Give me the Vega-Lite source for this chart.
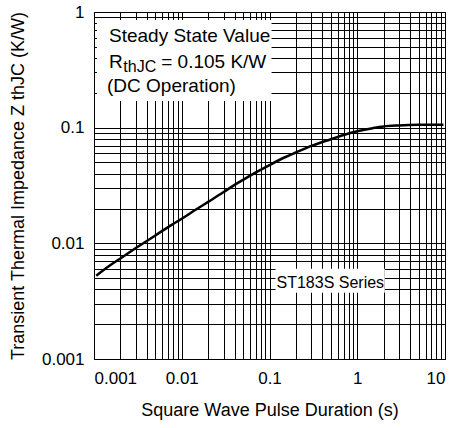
{
  "$schema": "https://vega.github.io/schema/vega-lite/v6.json",
  "width": 351,
  "height": 347,
  "autosize": {"type": "none"},
  "padding": {"left": 94, "top": 12, "right": 15, "bottom": 69},
  "background": "white",
  "config": {
    "view": {"stroke": "black", "strokeWidth": 1},
    "font": "Liberation Sans",
    "axis": {
      "labelFont": "Liberation Sans",
      "titleFont": "Liberation Sans",
      "labelColor": "black",
      "titleColor": "black",
      "titleFontWeight": "normal",
      "labelFontSize": 17,
      "titleFontSize": 18,
      "ticks": false,
      "domainColor": "black",
      "domainWidth": 1,
      "grid": true,
      "gridColor": "black",
      "gridWidth": 1,
      "gridOpacity": 1
    }
  },
  "encoding": {
    "x": {
      "field": "x",
      "type": "quantitative",
      "scale": {"type": "log", "domain": [0.001, 10], "nice": false},
      "axis": {
        "title": "Square Wave Pulse Duration (s)",
        "values": [0.001,0.002,0.003,0.004,0.005,0.006,0.007,0.008,0.009,0.01,0.02,0.03,0.04,0.05,0.06,0.07,0.08,0.09,0.1,0.2,0.3,0.4,0.5,0.6,0.7,0.8,0.9,1,2,3,4,5,6,7,8,9,10],
        "labelExpr": "abs(log(datum.value)/LN10 - round(log(datum.value)/LN10)) < 0.000001 ? format(datum.value, '~g') : ''",
        "labelPadding": 11,
        "labelOverlap": false,
        "titlePadding": 15
      }
    },
    "y": {
      "field": "y",
      "type": "quantitative",
      "scale": {"type": "log", "domain": [0.001, 1], "nice": false},
      "axis": {
        "title": "Transient Thermal Impedance Z thJC (K/W)",
        "values": [0.001,0.002,0.003,0.004,0.005,0.006,0.007,0.008,0.009,0.01,0.02,0.03,0.04,0.05,0.06,0.07,0.08,0.09,0.1,0.2,0.3,0.4,0.5,0.6,0.7,0.8,0.9,1],
        "labelExpr": "abs(log(datum.value)/LN10 - round(log(datum.value)/LN10)) < 0.000001 ? format(datum.value, '~g') : ''",
        "labelPadding": 10,
        "labelOverlap": false,
        "titlePadding": 14
      }
    }
  },
  "layer": [
    {
      "data": {"values": [
        {"x": 0.00106, "y": 0.00525},
        {"x": 0.0015, "y": 0.0064},
        {"x": 0.002, "y": 0.0074},
        {"x": 0.003, "y": 0.0091},
        {"x": 0.005, "y": 0.0117},
        {"x": 0.0075, "y": 0.0143},
        {"x": 0.01, "y": 0.0163},
        {"x": 0.015, "y": 0.0199},
        {"x": 0.02, "y": 0.0228},
        {"x": 0.03, "y": 0.0278},
        {"x": 0.04, "y": 0.032},
        {"x": 0.05, "y": 0.0354},
        {"x": 0.07, "y": 0.041},
        {"x": 0.1, "y": 0.0475},
        {"x": 0.15, "y": 0.0555},
        {"x": 0.2, "y": 0.061},
        {"x": 0.3, "y": 0.0695},
        {"x": 0.5, "y": 0.0795},
        {"x": 0.7, "y": 0.0865},
        {"x": 1, "y": 0.093},
        {"x": 1.5, "y": 0.099},
        {"x": 2, "y": 0.1025},
        {"x": 3, "y": 0.1045},
        {"x": 5, "y": 0.1058},
        {"x": 7, "y": 0.106},
        {"x": 9.6, "y": 0.1062}
      ]},
      "mark": {"type": "line", "color": "black", "strokeWidth": 2.5, "interpolate": "monotone"}
    },
    {
      "data": {"values": [
        {"x": 0.00108, "x2": 0.1055, "y": 0.853, "y2": 0.1703},
        {"x": 0.1172, "x2": 2.06, "y": 0.00604, "y2": 0.003745}
      ]},
      "mark": {"type": "rect", "color": "white", "opacity": 1},
      "encoding": {
        "x2": {"field": "x2"},
        "y2": {"field": "y2"}
      }
    },
    {
      "data": {"values": [
        {"x": 0.001483, "y": 0.554, "label": "Steady State Value"},
        {"x": 0.001483, "y": 0.3265, "label": "R"},
        {"x": 0.005832, "y": 0.3265, "label": "= 0.105 K/W"},
        {"x": 0.001408, "y": 0.2038, "label": "(DC Operation)"}
      ]},
      "mark": {"type": "text", "align": "left", "baseline": "alphabetic", "font": "Liberation Sans", "fontSize": 19, "color": "black"},
      "encoding": {"text": {"field": "label"}}
    },
    {
      "data": {"values": [
        {"x": 0.00216, "y": 0.3033, "label": "thJC"}
      ]},
      "mark": {"type": "text", "align": "left", "baseline": "alphabetic", "font": "Liberation Sans", "fontSize": 16, "color": "black"},
      "encoding": {"text": {"field": "label"}}
    },
    {
      "data": {"values": [
        {"x": 0.1202, "y": 0.00411, "label": "ST183S Series"}
      ]},
      "mark": {"type": "text", "align": "left", "baseline": "alphabetic", "font": "Liberation Sans", "fontSize": 16, "color": "black"},
      "encoding": {"text": {"field": "label"}}
    }
  ]
}
